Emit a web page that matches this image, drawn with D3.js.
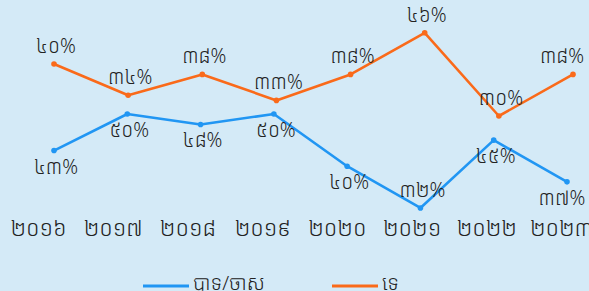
<!DOCTYPE html>
<html>
<head>
<meta charset="utf-8">
<script src="https://cdn.jsdelivr.net/npm/d3@7/dist/d3.min.js"></script>
<style>
html,body{margin:0;padding:0;background:#d4eaf7;}
svg{display:block;}
text{font-family:"Noto Sans Khmer","Khmer OS","Noto Sans",sans-serif;fill:#222;font-weight:300;}
</style>
</head>
<body>
<svg id="chart" width="589" height="291"></svg>
<script>
const years = ["២០១៦","២០១៧","២០១៨","២០១៩","២០២០","២០២១","២០២២","២០២៣"];
const yesValues = [43, 50, 48, 50, 40, 32, 45, 37];
const noValues = [40, 34, 38, 33, 38, 46, 30, 38];
const seriesNames = ["បាទ/ចាស", "ទេ"];
const khmerDigits = ["០","១","២","៣","៤","៥","៦","៧","៨","៩"];

const W = 589, H = 291;
const blue = "#2196f3", orange = "#fa6a1a";
const svg = d3.select("#chart");
svg.append("rect").attr("width", W).attr("height", H).attr("fill", "#d4eaf7");

const toKhmer = v => String(v).split("").map(c => khmerDigits[+c]).join("") + "%";

const xYes = d3.scalePoint().domain(years).range([54, 567]);
const xNo = d3.scalePoint().domain(years).range([54, 573]);
const xLab = d3.scalePoint().domain(years).range([38, 561]);
const yYes = d3.scaleLinear().domain([30, 50]).range([218.4, 114]);
const yNo = d3.scaleLinear().domain([30, 46]).range([116, 32.8]);

function drawSeries(vals, x, y, color, labelAbove) {
  const pts = vals.map((v, i) => [x(years[i]), y(v), v, i]);
  svg.append("path")
    .attr("d", d3.line()(pts.map(p => [p[0], p[1]])))
    .attr("fill", "none").attr("stroke", color)
    .attr("stroke-width", 2.6).attr("stroke-linejoin", "round");
  svg.selectAll(null).data(pts).enter().append("circle")
    .attr("cx", d => d[0]).attr("cy", d => d[1]).attr("r", 2.8).attr("fill", color);
  const minV = d3.min(vals);
  svg.selectAll(null).data(pts).enter().append("text")
    .attr("x", d => Math.min(d[0] + 2, W - 27))
    .attr("y", d => {
      const above = labelAbove || d[2] === minV;
      return above ? d[1] - 11 : d[1] + 23;
    })
    .attr("text-anchor", "middle")
    .attr("font-size", 19.5)
    .text(d => toKhmer(d[2]));
}

drawSeries(noValues, xNo, yNo, orange, true);
drawSeries(yesValues, xYes, yYes, blue, false);

// x axis labels
const xAxis = d3.axisBottom(xLab).tickSize(0).tickPadding(0);
const gx = svg.append("g").attr("transform", "translate(0,220)").call(xAxis);
gx.select(".domain").remove();
gx.selectAll("text").attr("font-size", 22).attr("fill", "#222")
  .style("font-family", "'Noto Sans Khmer','Khmer OS','Noto Sans',sans-serif")
  .style("font-weight", 300);

// legend
const legend = [
  {name: seriesNames[0], color: blue, x: 143},
  {name: seriesNames[1], color: orange, x: 332}
];
const lg = svg.selectAll(null).data(legend).enter().append("g")
  .attr("transform", d => `translate(${d.x},286)`);
lg.append("line").attr("x1", 0).attr("x2", 46).attr("y1", 0).attr("y2", 0)
  .attr("stroke", d => d.color).attr("stroke-width", 3);
lg.append("text").attr("x", 50).attr("y", 4).attr("font-size", 20).text(d => d.name);
</script>
</body>
</html>
